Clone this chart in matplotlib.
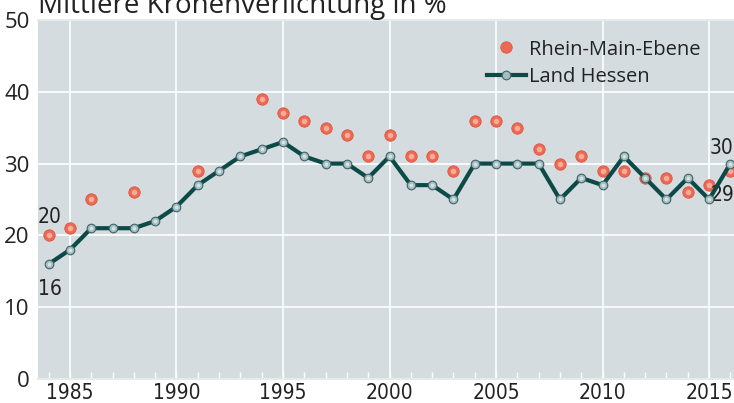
import matplotlib
matplotlib.use('Agg')
import matplotlib.pyplot as plt
from matplotlib import font_manager as fm
from matplotlib.ticker import MultipleLocator

# Werte
years_hessen = list(range(1984, 2017))
hessen = [16, 18, 21, 21, 21, 22, 24, 27, 29, 31, 32, 33, 31, 30, 30, 28, 31,
          27, 27, 25, 30, 30, 30, 30, 25, 28, 27, 31, 28, 25, 28, 25, 30]

years_rme = [1984, 1985, 1986, 1988, 1991, 1994, 1995, 1996, 1997, 1998, 1999,
             2000, 2001, 2002, 2003, 2004, 2005, 2006, 2007, 2008, 2009, 2010,
             2011, 2012, 2013, 2014, 2015, 2016]
rme = [20, 21, 25, 26, 29, 39, 37, 36, 35, 34, 31, 34, 31, 31, 29, 36, 36, 35,
       32, 30, 31, 29, 29, 28, 28, 26, 27, 29]

x_ticks = [1985, 1990, 1995, 2000, 2005, 2010, 2015]
y_ticks = [0, 10, 20, 30, 40, 50]

NORMAL = ['Open Sans', 'DejaVu Sans']
TXT = '#222222'


def narrow_font(size):
    # schmale Schrift suchen, sonst normale
    cands = [f for f in fm.fontManager.ttflist
             if ('Narrow' in f.name or 'Condensed' in f.name
                 or f.stretch in ('condensed', 'semi-condensed'))
             and f.weight in ('normal', 400, 'regular', 'book')
             and f.style == 'normal']
    cands.sort(key=lambda f: ('Liberation' not in f.name, 'DejaVu' not in f.name))
    if cands:
        return fm.FontProperties(fname=cands[0].fname, size=size)
    return fm.FontProperties(family=NORMAL, size=size - 1.5)


fig = plt.figure(figsize=(7.34, 4.03), dpi=100)
ax = fig.add_axes([0.0518, 0.0596, 0.9482, 0.8908])
ax.set_facecolor('#d5dcdf')

ax.set_xlim(1983.5, 2016.17)
ax.set_ylim(0, 50)

# Gitter
ax.set_xticks(x_ticks)
ax.set_yticks(y_ticks)
ax.xaxis.set_minor_locator(MultipleLocator(1))
ax.grid(True, which='major', color='white', lw=1.2, zorder=0)
ax.set_axisbelow(True)
for s in ['left', 'right']:
    ax.spines[s].set_visible(False)
ax.spines['top'].set_color('#e6eaeb')
ax.spines['top'].set_linewidth(1.5)
ax.spines['bottom'].set_color('#e6eaeb')
ax.spines['bottom'].set_linewidth(1.5)

ax.tick_params(axis='x', which='both', direction='in', color='white',
               length=5, width=1, pad=3, labelcolor=TXT)
ax.tick_params(axis='y', which='both', length=0, pad=6, labelsize=16,
               labelcolor=TXT)
xfont = narrow_font(15)
for lab in ax.get_xticklabels():
    lab.set_fontproperties(xfont)
for lab in ax.get_yticklabels():
    lab.set_family(NORMAL)

# Rhein-Main-Ebene: rote Kugeln
ax.plot(years_rme, rme, ls='none', marker='o', ms=8.2, mfc='#ec6a54',
        mec='#de5540', mew=0.6, zorder=3, label='Rhein-Main-Ebene')
ax.plot(years_rme, rme, ls='none', marker='o', ms=4, mfc='#fbbcac',
        mec='none', alpha=0.8, zorder=4)

# Land Hessen: Linie mit kleinen Kugeln
ax.plot(years_hessen, hessen, color='#0c4a48', lw=3, marker='o', ms=6.2,
        mfc='#a3bcc0', mec='#3f6467', mew=0.8, zorder=5, label='Land Hessen')
ax.plot(years_hessen, hessen, ls='none', marker='o', ms=2.8, mfc='#e2ecee',
        mec='none', alpha=0.8, zorder=6)

# Beschriftungen an Anfang und Ende
afont = narrow_font(15)
ax.annotate(str(rme[0]), (years_rme[0], rme[0]), xytext=(-8, 9),
            textcoords='offset points', fontproperties=afont, color=TXT)
ax.annotate(str(hessen[0]), (years_hessen[0], hessen[0]), xytext=(-8, -22),
            textcoords='offset points', fontproperties=afont, color=TXT)
ax.annotate(str(hessen[-1]), (years_hessen[-1], hessen[-1]), xytext=(-15, 7),
            textcoords='offset points', fontproperties=afont, color=TXT,
            annotation_clip=False)
ax.annotate(str(rme[-1]), (years_rme[-1], rme[-1]), xytext=(-14, -22),
            textcoords='offset points', fontproperties=afont, color=TXT,
            annotation_clip=False)

leg = ax.legend(loc='upper left', bbox_to_anchor=(0.634, 0.968), frameon=False,
                prop={'family': NORMAL, 'size': 14.5}, handlelength=1.9,
                handletextpad=0.15, labelspacing=0.35, borderaxespad=0)
for t in leg.get_texts():
    t.set_color(TXT)

fig.text(0.052, 0.968, 'Mittlere Kronenverlichtung in %', fontsize=20,
         family=NORMAL, color=TXT, va='baseline', ha='left')

fig.savefig('out.png', dpi=100)
